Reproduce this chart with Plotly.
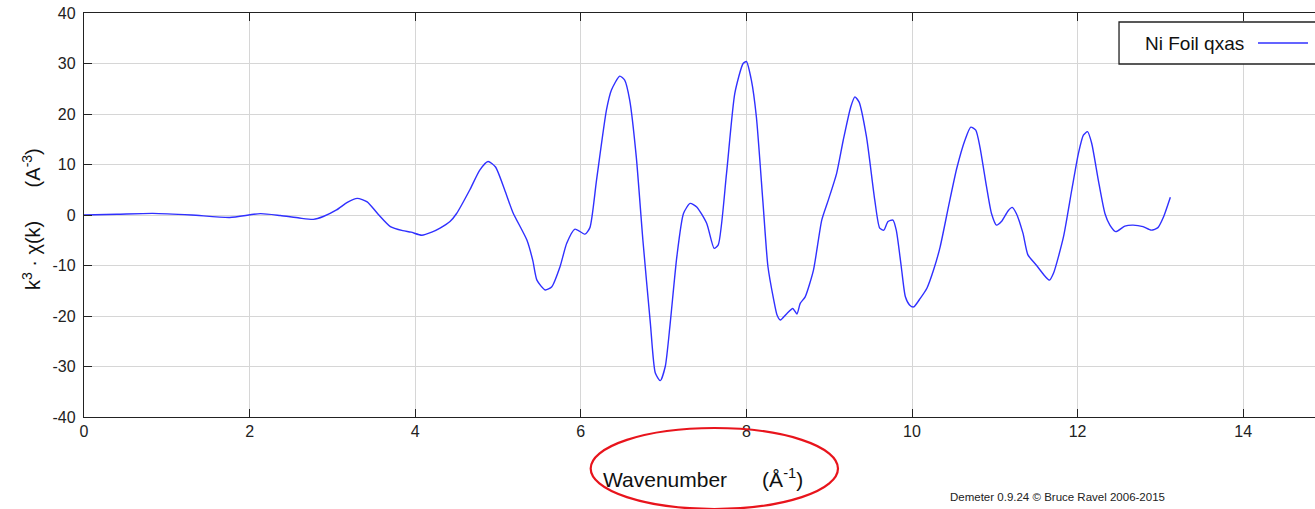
import plotly.graph_objects as go

# Wavenumber k (1/Å) and k^3*chi(k)
k = [0.0, 0.4, 0.83, 1.3, 1.76, 2.13, 2.37, 2.6, 2.77, 2.89, 3.05, 3.18, 3.3, 3.42, 3.55,
     3.7, 3.85, 3.95, 4.08, 4.2, 4.3, 4.42, 4.5, 4.66, 4.78, 4.88, 4.97, 5.08, 5.18, 5.35,
     5.42, 5.47, 5.57, 5.65, 5.75, 5.83, 5.93, 6.05, 6.11, 6.19, 6.31, 6.37, 6.47, 6.53,
     6.59, 6.67, 6.75, 6.84, 6.9, 6.96, 7.02, 7.08, 7.16, 7.24, 7.32, 7.4, 7.52, 7.61,
     7.66, 7.76, 7.86, 7.96, 8.0, 8.06, 8.12, 8.2, 8.26, 8.33, 8.37, 8.41, 8.49, 8.56,
     8.61, 8.65, 8.71, 8.81, 8.91, 8.99, 9.09, 9.17, 9.26, 9.31, 9.36, 9.45, 9.55, 9.61,
     9.66, 9.71, 9.77, 9.81, 9.87, 9.92, 9.97, 10.02, 10.1, 10.18, 10.26, 10.34, 10.44,
     10.54, 10.64, 10.71, 10.77, 10.82, 10.9, 10.96, 11.02, 11.08, 11.16, 11.21, 11.26,
     11.34, 11.4, 11.5, 11.61, 11.66, 11.71, 11.83, 11.93, 12.01, 12.07, 12.12, 12.17,
     12.25, 12.33, 12.39, 12.46, 12.57, 12.67, 12.79, 12.89, 12.97, 13.04, 13.12]
chi_k3 = [0.0, 0.15, 0.33, 0.0, -0.5, 0.27, -0.1, -0.6, -0.86, -0.3, 1.0, 2.5, 3.3, 2.6, 0.2,
          -2.3, -3.1, -3.4, -4.0, -3.4, -2.6, -1.3, 0.3, 5.0, 8.9, 10.6, 9.5, 5.0, 0.5, -5.0,
          -9.0, -12.9, -14.85, -14.2, -10.2, -5.6, -2.8, -3.8, -2.5, 6.9, 20.8, 24.75, 27.5, 26.7,
          22.8, 11.5, -5.0, -21.4, -31.3, -32.8, -30.0, -21.4, -8.25, 0.3, 2.3, 1.6, -1.65, -6.6,
          -5.9, 8.25, 24.1, 30.0, 30.4, 26.7, 19.5, 2.5, -10.2, -16.8, -19.8, -20.8, -19.5, -18.5,
          -19.6, -17.5, -16.2, -10.9, -1.0, 3.0, 8.25, 14.85, 21.4, 23.4, 22.4, 15.5, 3.0, -2.6,
          -3.0, -1.3, -1.0, -3.0, -10.2, -16.2, -17.8, -18.2, -16.5, -14.5, -10.9, -6.3, 1.6,
          9.2, 14.85, 17.4, 16.8, 13.5, 5.6, 0.3, -2.0, -1.3, 0.8, 1.5, 0.3,
          -3.6, -7.9, -9.9, -12.2, -12.9, -11.5, -4.3, 5.0, 12.2, 15.8, 16.5, 14.2,
          6.9, 0.3, -2.0, -3.3, -2.2, -2.0, -2.3, -3.0, -2.5, -0.3, 3.5]

x_ticks = [0, 2, 4, 6, 8, 10, 12, 14]
x_tick_labels = ["0", "2", "4", "6", "8", "10", "12", "14"]
y_ticks = [-40, -30, -20, -10, 0, 10, 20, 30, 40]
y_tick_labels = ["-40", "-30", "-20", "-10", "0", "10", "20", "30", "40"]
series_name = "Ni Foil qxas"

LINE_COLOR = "#3030ff"
FONT = "Liberation Sans, Arial, sans-serif"

fig = go.Figure()
fig.add_trace(go.Scatter(x=k, y=chi_k3, mode="lines", name=series_name,
                         line=dict(color=LINE_COLOR, width=1.4, shape="spline", smoothing=0.6),
                         showlegend=False))

axis_common = dict(showline=True, linecolor="#222", linewidth=1.3,
                   ticks="inside", ticklen=8, tickcolor="#222", tickwidth=1.3,
                   showgrid=True, gridcolor="#d6d6d6", gridwidth=1.3, zeroline=False,
                   tickfont=dict(family=FONT, size=16, color="#222"))

fig.update_xaxes(range=[0, 1231 / 82.8], tickvals=x_ticks, ticktext=x_tick_labels,
                 mirror="ticks", **axis_common)
fig.update_yaxes(range=[-40, 40], tickvals=y_ticks, ticktext=y_tick_labels,
                 ticklabelstandoff=4, mirror=False, **axis_common)

NB = "\u00a0"
annotations = [
    dict(text="Wavenumber" + NB * 6 + "(Å<sup>-1</sup>)", xref="paper", yref="paper",
         x=0.503, y=-0.151, showarrow=False, xanchor="center", yanchor="middle",
         font=dict(family=FONT, size=21, color="#111")),
    dict(text="k<sup>3</sup> · χ(k)" + NB * 6 + "(A<sup>-3</sup>)", xref="paper", yref="paper",
         x=-0.043, y=0.49, showarrow=False, textangle=-90, xanchor="center", yanchor="middle",
         font=dict(family=FONT, size=20, color="#111")),
    dict(text="Demeter 0.9.24 © Bruce Ravel 2006-2015", xref="paper", yref="paper",
         x=0.791, y=-0.198, showarrow=False, xanchor="center", yanchor="middle",
         font=dict(family=FONT, size=11.5, color="#222")),
    dict(text=series_name, xref="paper", yref="paper", x=0.8603, y=0.9257,
         showarrow=False, xanchor="left", yanchor="middle",
         font=dict(family=FONT, size=19, color="#111")),
]

shapes = [
    # legend box
    dict(type="rect", xref="paper", yref="paper", x0=0.8408, x1=1.01, y0=0.8738, y1=0.9777,
         line=dict(color="#222", width=1.3), fillcolor="white", layer="above"),
    # legend line sample
    dict(type="line", xref="paper", yref="paper", x0=0.9537, x1=0.9943, y0=0.9257, y1=0.9257,
         line=dict(color=LINE_COLOR, width=1.4)),
    # red highlight ellipse around the x-axis title
    dict(type="circle", xref="paper", yref="paper", x0=0.4116, x1=0.6125, y0=-0.0272, y1=-0.2277,
         line=dict(color="#e8141c", width=2.2)),
]

fig.update_layout(width=1315, height=509, margin=dict(l=84, r=0, t=13, b=92),
                  plot_bgcolor="white", paper_bgcolor="white",
                  annotations=annotations, shapes=shapes,
                  font=dict(family=FONT))

fig.write_html("out.html")
